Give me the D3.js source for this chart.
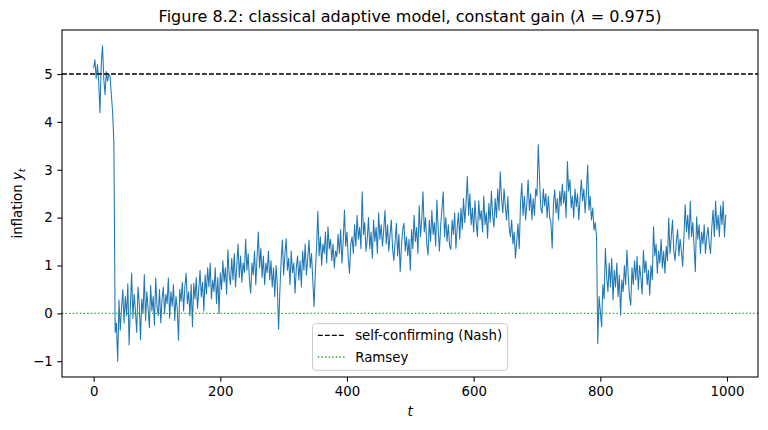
<!DOCTYPE html>
<html>
<head>
<meta charset="utf-8">
<script src="https://cdn.jsdelivr.net/npm/d3@7"></script>
<style>
  body { margin: 0; background: #fff; }
  svg { display: block; font-family: "DejaVu Sans", sans-serif; }
</style>
</head>
<body>
<div id="chart"></div>
<script>
const tStep = 2;
const inflation = [
  5.12, 5.30, 4.90, 5.20, 4.85, 4.19, 5.20, 5.59, 4.90, 4.57, 5.05, 4.85, 5.00, 4.95, 4.55, 4.20, 3.55, -0.40, -0.20, -1.00,
  0.28, -0.35, 0.10, 0.50, -0.20, 0.35, -0.05, 0.62, -0.66, 0.15, 0.84, -0.10, 0.40, 0.05, -0.40, 0.55, 0.20, -0.55, 0.30, 0.00, 0.81, -0.15, 0.45, 0.10, -0.30,
  0.58, 0.05, 0.35, -0.25, 0.74, 0.15, -0.05, 0.50, -0.20, 0.30, 0.55, 0.00, 0.40, 0.20, 0.74, -0.10, 0.45, 0.15, 0.60, -0.15, 0.35, 0.10, -0.56, 0.50, 0.25,
  0.65, 0.05, 0.55, 0.84, 0.20, 0.45, -0.05, 0.60, -0.28, 0.63, 0.30, 0.75, 0.10, 0.50, 0.90, 0.35, 0.65, 0.05, 0.80, 0.40, 0.95, 0.55, 1.05, 0.30, 0.70,
  0.45, 0.95, 0.20, 0.75, 0.00, 0.85, 0.50, 1.10, 0.65, 0.95, 0.40, 1.33, 0.80, 0.60, 1.15, 0.70, 1.25, 0.55, 1.00, 1.45, 0.75, 1.20, 0.65, 1.05, 0.85,
  1.55, 0.90, 1.25, 0.70, 0.42, 1.05, 0.80, 1.30, 0.60, 1.15, 1.70, 0.95, 1.36, 0.75, 1.20, 0.60, 1.05, 0.85, 1.30, 0.70, 1.10, 0.55, 0.95, 0.35, 1.00,
  0.60, -0.33, 0.45, 1.10, 1.53, 0.80, 1.25, 1.56, 0.90, 1.15, 0.60, 1.30, 0.85, 1.05, 0.42, 0.95, 1.20, 0.70, 1.10, 0.55, 1.30, 0.90, 1.45, 0.80, 1.15,
  1.53, 0.95, 1.25, 0.70, 0.14, 0.85, 1.40, 2.13, 1.20, 1.60, 1.00, 1.45, 1.25, 1.70, 1.05, 1.81, 1.35, 1.55, 1.10, 1.45, 0.95, 1.30, 1.18, 1.65, 1.25,
  1.75, 1.05, 1.50, 2.16, 1.40, 1.70, 1.15, 0.84, 1.45, 1.60, 1.25, 1.85, 1.40, 2.05, 1.55, 1.80, 1.35, 2.54, 1.65, 1.90, 1.30, 1.55, 2.00, 1.35, 1.70,
  1.15, 1.95, 1.50, 1.80, 1.25, 2.10, 1.55, 1.85, 1.40, 1.74, 2.15, 1.45, 1.85, 1.30, 1.65, 1.95, 1.35, 1.10, 1.50, 1.88, 1.20, 1.65, 0.87, 1.40, 1.75,
  1.88, 1.30, 1.60, 1.20, 1.55, 0.90, 1.75, 1.35, 2.05, 1.50, 1.80, 1.25, 2.25, 1.60, 1.95, 2.54, 1.70, 2.00, 1.45, 1.22, 1.95, 1.50, 2.15, 1.65, 1.90,
  1.40, 2.37, 1.75, 1.30, 1.85, 2.20, 2.54, 1.60, 2.00, 1.50, 1.85, 1.40, 1.34, 1.95, 1.65, 2.10, 1.36, 1.80, 2.10, 1.55, 2.20, 1.75, 2.40, 1.90, 2.30,
  2.86, 2.05, 2.50, 1.85, 2.20, 1.70, 2.35, 1.90, 1.60, 2.35, 1.95, 2.15, 1.70, 2.45, 1.85, 2.10, 1.57, 2.30, 1.90, 2.55, 2.05, 1.80, 2.40, 2.00, 2.60,
  2.15, 2.96, 2.40, 2.10, 2.60, 2.23, 1.95, 2.44, 1.80, 1.60, 1.95, 1.45, 1.70, 1.15, 1.50, 1.87, 1.35, 2.30, 2.72, 2.05, 2.45, 1.95, 2.30, 2.79, 2.15,
  2.50, 1.95, 2.40, 2.05, 2.60, 2.45, 3.52, 2.80, 2.20, 2.09, 2.60, 2.25, 2.50, 2.00, 2.44, 2.00, 1.90, 1.36, 2.30, 2.58, 2.10, 2.40, 1.95, 2.55, 2.25,
  2.70, 2.30, 2.55, 2.00, 3.17, 2.55, 2.79, 2.20, 2.45, 2.00, 2.60, 2.23, 2.50, 1.95, 2.40, 2.79, 2.35, 2.60, 2.10, 2.50, 3.10, 2.16, 2.45, 1.95, 2.20,
  1.74, 1.90, 1.60, -0.63, 0.35, 0.05, -0.28, 0.60, 0.30, 1.36, 0.77, 0.45, 1.05, 0.55, 1.15, 0.28, 0.90, 0.55, 1.05, 0.35, 0.80, -0.04, 0.70, 0.45, 1.00,
  0.60, 1.32, 0.80, 0.35, 0.17, 0.95, 0.60, 1.10, 0.70, 1.19, 0.50, 1.00, 0.75, 0.40, 1.32, 0.85, 1.10, 0.60, 0.90, 0.38, 1.00, 0.70, 1.81, 1.20, 1.45,
  0.84, 1.30, 1.05, 1.55, 0.95, 1.30, 0.84, 1.40, 1.10, 1.99, 1.25, 1.60, 1.95, 1.30, 1.10, 1.50, 1.75, 1.20, 1.55, 1.30, 0.98, 1.60, 2.27, 1.70, 2.05,
  1.55, 2.34, 1.60, 1.90, 1.40, 0.87, 2.02, 1.55, 1.85, 1.25, 1.70, 1.45, 1.85, 1.25, 1.60, 1.80, 1.45, 1.25, 1.80, 2.16, 1.60, 2.34, 1.75, 2.05, 1.60,
  2.25, 1.85, 2.34, 1.60, 2.06
];
const nashLevel = 5;
const ramseyLevel = 0;
const xTicks = [0, 200, 400, 600, 800, 1000];
const yTicks = [-1, 0, 1, 2, 3, 4, 5];
const legendLabels = ["self-confirming (Nash)", "Ramsey"];

const W = 768, H = 430;
const margin = { top: 30, right: 10, bottom: 53, left: 62 };
const width = W - margin.left - margin.right;
const height = H - margin.top - margin.bottom;

const data = inflation.map((v, i) => ({ t: i * tStep, y: v }));

const svg = d3.select("#chart")
  .append("svg")
  .attr("width", W)
  .attr("height", H);

const g = svg.append("g")
  .attr("transform", `translate(${margin.left},${margin.top})`);

// matplotlib-style 5% margins around the data
const xExt = [0, 999];
const yExt = d3.extent(data, d => d.y);
const xPad = (xExt[1] - xExt[0]) * 0.05;
const yPad = (yExt[1] - yExt[0]) * 0.05;

const x = d3.scaleLinear().domain([xExt[0] - xPad, xExt[1] + xPad]).range([0, width]);
const y = d3.scaleLinear().domain([yExt[0] - yPad, yExt[1] + yPad]).range([height, 0]);

// Series
g.append("path")
  .datum(data)
  .attr("fill", "none")
  .attr("stroke", "#1f77b4")
  .attr("stroke-width", 1.05)
  .attr("stroke-linejoin", "round")
  .attr("d", d3.line().x(d => x(d.t)).y(d => y(d.y)));

// Reference lines
g.append("line")
  .attr("x1", 0).attr("x2", width)
  .attr("y1", y(nashLevel)).attr("y2", y(nashLevel))
  .attr("stroke", "#000")
  .attr("stroke-width", 1.33)
  .attr("stroke-dasharray", "4.9,2.1");

g.append("line")
  .attr("x1", 0).attr("x2", width)
  .attr("y1", y(ramseyLevel)).attr("y2", y(ramseyLevel))
  .attr("stroke", "#2ca02c")
  .attr("stroke-width", 1.4)
  .attr("stroke-dasharray", "1.4,2.2");

// Axes
const xAxis = g.append("g")
  .attr("transform", `translate(0,${height})`)
  .call(d3.axisBottom(x).tickValues(xTicks).tickSizeOuter(0).tickSize(4.67).tickPadding(4.67).tickFormat(d3.format("d")));
const yAxis = g.append("g")
  .call(d3.axisLeft(y).tickValues(yTicks).tickSizeOuter(0).tickSize(4.67).tickPadding(4.67)
    .tickFormat(d => d < 0 ? "\u2212" + Math.abs(d) : d));

[xAxis, yAxis].forEach(a => {
  a.select(".domain").remove();
  a.selectAll(".tick line").attr("stroke", "#000").attr("stroke-width", 1.07);
  a.selectAll(".tick text")
    .attr("fill", "#000")
    .style("font-family", "DejaVu Sans")
    .style("font-size", "13.33px");
});

// Frame
g.append("rect")
  .attr("x", 0).attr("y", 0)
  .attr("width", width).attr("height", height)
  .attr("fill", "none")
  .attr("stroke", "#000")
  .attr("stroke-width", 1.07);

// Title
const title = svg.append("text")
  .attr("x", margin.left + width / 2)
  .attr("y", margin.top - 8)
  .attr("text-anchor", "middle")
  .style("font-size", "16px");
title.append("tspan").text("Figure 8.2: classical adaptive model, constant gain (");
title.append("tspan").style("font-style", "italic").text("\u03bb");
title.append("tspan").text(" = 0.975)");

// Axis labels
svg.append("text")
  .attr("x", margin.left + width / 2)
  .attr("y", 416)
  .attr("text-anchor", "middle")
  .style("font-size", "13.33px")
  .style("font-style", "italic")
  .text("t");

const ylab = svg.append("text")
  .attr("transform", `translate(22,${margin.top + height / 2}) rotate(-90)`)
  .attr("text-anchor", "middle")
  .style("font-size", "13.33px");
ylab.append("tspan").text("inflation ");
ylab.append("tspan").style("font-style", "italic").text("y");
ylab.append("tspan").style("font-style", "italic").style("font-size", "9.5px").attr("dy", 3).text("t");

// Legend
const fs = 13.33;
const legend = g.append("g");
const box = legend.append("rect");
const items = legend.selectAll(".item")
  .data(legendLabels)
  .join("g")
  .attr("class", "item");
items.append("line")
  .attr("x1", 0.4 * fs).attr("x2", 0.4 * fs + 2 * fs)
  .attr("stroke", (d, i) => i === 0 ? "#000" : "#2ca02c")
  .attr("stroke-width", (d, i) => i === 0 ? 1.33 : 1.4)
  .attr("stroke-dasharray", (d, i) => i === 0 ? "4.9,2.1" : "1.4,2.2");
items.append("text")
  .attr("x", 0.4 * fs + 2.8 * fs)
  .attr("dy", "0.36em")
  .style("font-size", fs + "px")
  .text(d => d);

const textW = d3.max(items.selectAll("text").nodes(), n => n.getComputedTextLength());
const boxW = 0.4 * fs + 2.8 * fs + textW + 0.4 * fs;
const rowH = 21.7;
const boxH = 46.7;
items.attr("transform", (d, i) => `translate(0,${11.7 + i * rowH})`);
box.attr("width", boxW).attr("height", boxH)
  .attr("rx", 3)
  .attr("fill", "#fff").attr("fill-opacity", 0.8)
  .attr("stroke", "#cccccc").attr("stroke-width", 1);
legend.attr("transform", `translate(${width / 2 - boxW / 2},${height - 0.5 * fs - boxH})`);
</script>
</body>
</html>
